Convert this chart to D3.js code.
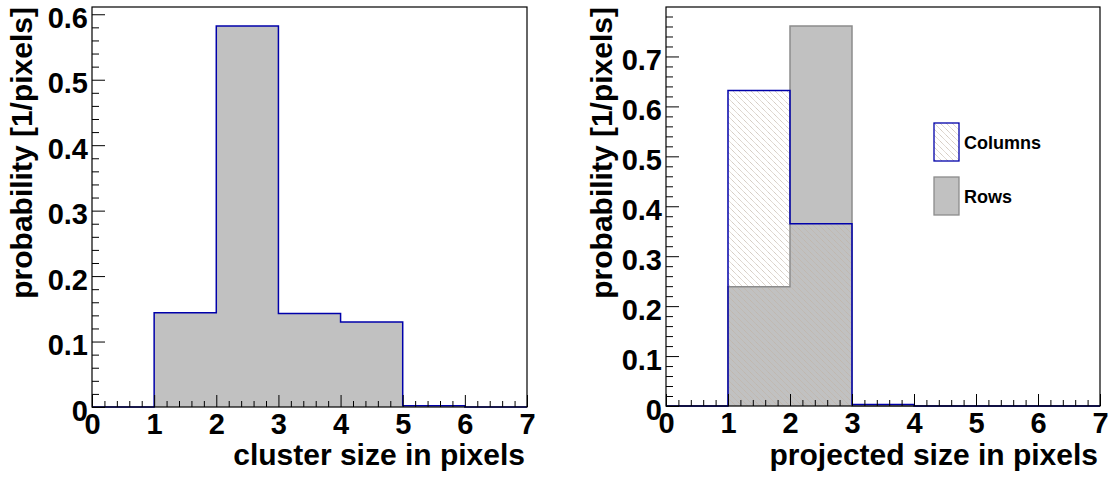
<!DOCTYPE html>
<html>
<head>
<meta charset="utf-8">
<script src="https://cdn.jsdelivr.net/npm/d3@7/dist/d3.min.js"></script>
<style>
  html, body { margin: 0; padding: 0; background: #fff; }
  svg { display: block; }
  text { font-family: "Liberation Sans", Arial, Helvetica, sans-serif; font-weight: bold; fill: #000; }
</style>
</head>
<body>
<svg id="chart" width="1111" height="478"></svg>
<script>
// Bin edges shared by both histograms (pixels)
const binEdges = [0, 1, 2, 3, 4, 5, 6, 7];

// Cluster size distribution (probability per bin)
const clusterSize = [0, 0.144, 0.582, 0.143, 0.130, 0.002, 0];

// Projected size distributions
const columnsProb = [0, 0.632, 0.365, 0.003, 0, 0, 0];
const rowsProb    = [0, 0.239, 0.761, 0, 0, 0, 0];

const xTickLabels = ["0", "1", "2", "3", "4", "5", "6", "7"];
const leftYTicks  = [0, 0.1, 0.2, 0.3, 0.4, 0.5, 0.6];
const rightYTicks = [0, 0.1, 0.2, 0.3, 0.4, 0.5, 0.6, 0.7];

const legendLabels = ["Columns", "Rows"];

const svg = d3.select("#chart");
const defs = svg.append("defs");

// Diagonal hatch for the Columns histogram
const hatch = defs.append("pattern")
  .attr("id", "hatch")
  .attr("patternUnits", "userSpaceOnUse")
  .attr("width", 6).attr("height", 6);
hatch.append("path")
  .attr("d", "M-1,-1 L7,7 M-1,5 L1,7 M5,-1 L7,1")
  .attr("stroke", "#bfb2a4")
  .attr("stroke-width", 0.9)
  .attr("stroke-dasharray", "1,0.6");

const GRAY_FILL = "#c1c1c1";
const BLUE = "#0000aa";
const GRAY_LINE = "#8c8c8c";

function histPoints(values) {
  const pts = values.map((v, i) => [binEdges[i], v]);
  pts.push([binEdges[binEdges.length - 1], values[values.length - 1]]);
  return pts;
}

function drawPanel(opts) {
  const { x0, x1, yTop, yBottom, yMax, yTicks, xTitle } = opts;
  const g = svg.append("g");

  const x = d3.scaleLinear().domain([0, 7]).range([x0, x1]);
  const y = d3.scaleLinear().domain([0, yMax]).range([yBottom, yTop]);

  const area = d3.area()
    .curve(d3.curveStepAfter)
    .x(d => x(d[0])).y0(y(0)).y1(d => y(d[1]));
  const line = d3.line()
    .curve(d3.curveStepAfter)
    .x(d => x(d[0])).y(d => y(d[1]));

  const outline = (values) => {
    const pts = histPoints(values);
    const first = [pts[0][0], 0];
    const last = [pts[pts.length - 1][0], 0];
    return line([first].concat(pts)) + "L" + x(last[0]) + "," + y(0);
  };

  opts.draw(g, x, y, area, outline);

  // Frame
  g.append("rect")
    .attr("x", x0).attr("y", yTop)
    .attr("width", x1 - x0).attr("height", yBottom - yTop)
    .attr("fill", "none").attr("stroke", "#000").attr("stroke-width", 1.2);

  // Y axis: major ticks with labels, minor ticks inward
  const yMinor = d3.range(0, yMax + 1e-9, 0.02).filter(v => Math.abs(v * 10 - Math.round(v * 10)) > 1e-6);
  const yAxis = g.append("g").attr("transform", `translate(${x0},0)`)
    .call(d3.axisLeft(y).tickValues(yTicks).tickSize(-13).tickPadding(4)
      .tickFormat(d => d === 0 ? "0" : d3.format(".1f")(d)));
  g.append("g").attr("transform", `translate(${x0},0)`)
    .call(d3.axisLeft(y).tickValues(yMinor).tickSize(-7).tickFormat(""));

  // X axis
  const xMinor = d3.range(0, 7 + 1e-9, 0.2).filter(v => Math.abs(v - Math.round(v)) > 1e-6);
  const xAxis = g.append("g").attr("transform", `translate(0,${yBottom})`)
    .call(d3.axisBottom(x).tickValues(binEdges).tickSize(-12).tickPadding(6)
      .tickFormat((d, i) => xTickLabels[i]));
  g.append("g").attr("transform", `translate(0,${yBottom})`)
    .call(d3.axisBottom(x).tickValues(xMinor).tickSize(-6).tickFormat(""));

  g.selectAll(".domain").remove();
  g.selectAll(".tick line").attr("stroke", "#000").attr("stroke-width", 1);
  yAxis.selectAll("text").attr("font-size", 29).attr("dy", "0.45em");
  xAxis.selectAll("text").attr("font-size", 29);

  // Axis titles
  g.append("text")
    .attr("transform", `translate(${opts.yTitleX},${yTop}) rotate(-90)`)
    .attr("text-anchor", "end")
    .attr("font-size", 30)
    .text("probability [1/pixels]");
  g.append("text")
    .attr("x", x1 - 2).attr("y", 465)
    .attr("text-anchor", "end")
    .attr("font-size", 30)
    .text(xTitle);

  return { g, x, y };
}

// Left: cluster size
drawPanel({
  x0: 92, x1: 527, yTop: 7, yBottom: 407,
  yMax: d3.max(clusterSize) * 1.05,
  yTicks: leftYTicks,
  yTitleX: 32,
  xTitle: "cluster size in pixels",
  draw(g, x, y, area, outline) {
    g.append("path").attr("d", area(histPoints(clusterSize)))
      .attr("fill", GRAY_FILL);
    g.append("path").attr("d", outline(clusterSize))
      .attr("fill", "none").attr("stroke", BLUE).attr("stroke-width", 1.5);
  }
});

// Right: projected size (rows and columns)
drawPanel({
  x0: 666, x1: 1100, yTop: 7, yBottom: 406,
  yMax: d3.max(rowsProb) * 1.05,
  yTicks: rightYTicks,
  yTitleX: 612,
  xTitle: "projected size in pixels",
  draw(g, x, y, area, outline) {
    g.append("path").attr("d", area(histPoints(rowsProb)))
      .attr("fill", GRAY_FILL);
    g.append("path").attr("d", area(histPoints(columnsProb)))
      .attr("fill", "url(#hatch)");
    g.append("path").attr("d", outline(rowsProb))
      .attr("fill", "none").attr("stroke", GRAY_LINE).attr("stroke-width", 1.5);
    g.append("path").attr("d", outline(columnsProb))
      .attr("fill", "none").attr("stroke", BLUE).attr("stroke-width", 1.5);
  }
});

// Legend
const legend = svg.append("g").attr("transform", "translate(934,123)");
const legendStyles = [
  { fill: "url(#hatch)", stroke: BLUE },
  { fill: GRAY_FILL, stroke: GRAY_LINE }
];
legendLabels.forEach((label, i) => {
  const row = legend.append("g").attr("transform", `translate(0,${i * 54})`);
  row.append("rect")
    .attr("x", 0).attr("y", 0).attr("width", 25).attr("height", 38)
    .attr("fill", "#fff").attr("stroke", "none");
  row.append("rect")
    .attr("x", 0).attr("y", 0).attr("width", 25).attr("height", 38)
    .attr("fill", legendStyles[i].fill)
    .attr("stroke", legendStyles[i].stroke).attr("stroke-width", 1.3);
  row.append("text")
    .attr("x", 30).attr("y", 26)
    .attr("font-size", 18)
    .text(label);
});
</script>
</body>
</html>
